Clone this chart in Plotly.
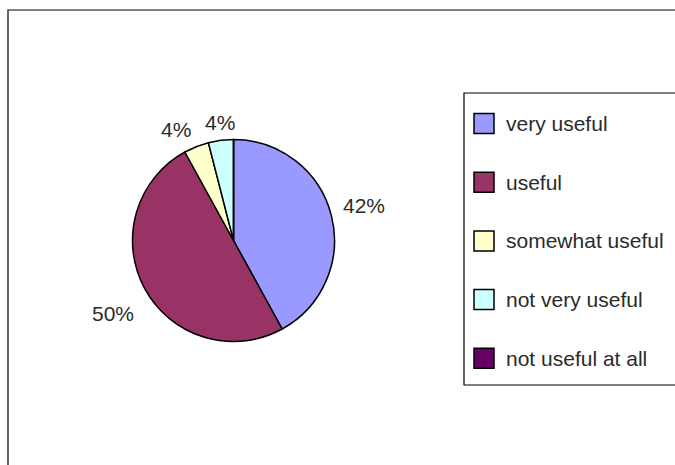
import math
import plotly.graph_objects as go

# Survey responses: how useful respondents found the resource (percent)
categories = ["very useful", "useful", "somewhat useful", "not very useful", "not useful at all"]
shares = [42, 50, 4, 4, 0]
colors = ["#9999FF", "#993366", "#FFFFCC", "#CCFFFF", "#660066"]

W, H = 675, 465
FONT = "Liberation Sans, Arial, sans-serif"
TEXT_COLOR = "#2b2b2b"


def px(x):
    return x / W


def py(y):
    return 1 - y / H


# Pie geometry in pixels
cx, cy, r = 233.5, 240.5, 101

fig = go.Figure(
    go.Pie(
        labels=categories,
        values=shares,
        sort=False,
        direction="clockwise",
        rotation=0,
        marker=dict(colors=colors, line=dict(color="black", width=1.5)),
        textinfo="none",
        domain=dict(x=[px(cx - r), px(cx + r)], y=[py(cy + r), py(cy - r)]),
        showlegend=False,
        hoverinfo="label+percent",
    )
)

shapes = [
    # chart area frame
    dict(type="rect", xref="paper", yref="paper",
         x0=px(8), x1=px(W + 20), y0=py(H + 20), y1=py(10),
         line=dict(color="black", width=1.2), fillcolor="rgba(0,0,0,0)", layer="below"),
    # legend frame
    dict(type="rect", xref="paper", yref="paper",
         x0=px(464), x1=px(W + 20), y0=py(385), y1=py(93),
         line=dict(color="black", width=1.2), fillcolor="white", layer="below"),
]
annotations = []

# percentage labels just outside each slice, anchored on the side facing the pie
total = sum(shares)
cum = 0
label_r = r + 10
for v in shares:
    if v <= 0:
        continue
    mid = 2 * math.pi * (cum + v / 2) / total
    cum += v
    s, c = math.sin(mid), math.cos(mid)
    xa = "left" if s > 0.3 else ("right" if s < -0.3 else "center")
    ya = "bottom" if c > 0.2 else ("top" if c < -0.2 else "middle")
    annotations.append(dict(xref="paper", yref="paper",
                            x=px(cx + label_r * s), y=py(cy - label_r * c),
                            yshift=-6,
                            text=f"{v / total:.0%}", showarrow=False,
                            xanchor=xa, yanchor=ya,
                            font=dict(family=FONT, size=21, color=TEXT_COLOR)))

# legend entries
first_row, row_step, sw = 123.5, 58.7, 20
for i, (name, col) in enumerate(zip(categories, colors)):
    yc = first_row + i * row_step
    shapes.append(dict(type="rect", xref="paper", yref="paper",
                       x0=px(474), x1=px(474 + sw), y0=py(yc + sw / 2), y1=py(yc - sw / 2),
                       line=dict(color="black", width=1.5), fillcolor=col))
    annotations.append(dict(xref="paper", yref="paper", x=px(504), y=py(yc),
                            text=name, showarrow=False, xanchor="left", yanchor="middle",
                            font=dict(family=FONT, size=21, color=TEXT_COLOR)))

fig.update_layout(
    width=W,
    height=H,
    margin=dict(l=0, r=0, t=0, b=0),
    paper_bgcolor="white",
    plot_bgcolor="white",
    shapes=shapes,
    annotations=annotations,
)

fig.write_html("out.html")
